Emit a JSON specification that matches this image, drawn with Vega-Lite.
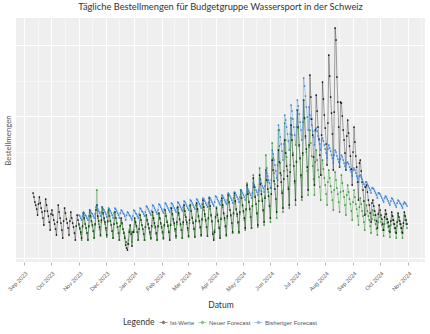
{
"$schema":"https://vega.github.io/schema/vega-lite/v6.json",
"width":409,"height":244,
"autosize":{"type":"none"},
"padding":{"left":16,"top":18,"right":5,"bottom":72},
"background":"white",
"view":{"fill":"#EFEFEF","stroke":null},
"title":{"text":"Tägliche Bestellmengen für Budgetgruppe Wassersport in der Schweiz","anchor":"middle","font":"Lato","fontSize":9.3,"fontWeight":"normal","color":"#333333","offset":6},
"data":{"values":[
{"d":"2023-09-11","i":69},{"d":"2023-09-12","i":65},{"d":"2023-09-13","i":60},{"d":"2023-09-14","i":57},{"d":"2023-09-15","i":53},{"d":"2023-09-16","i":47},{"d":"2023-09-17","i":58},
{"d":"2023-09-18","i":65},{"d":"2023-09-19","i":59},{"d":"2023-09-20","i":54},{"d":"2023-09-21","i":50},{"d":"2023-09-22","i":44},{"d":"2023-09-23","i":37},{"d":"2023-09-24","i":51},
{"d":"2023-09-25","i":63},{"d":"2023-09-26","i":57},{"d":"2023-09-27","i":51},{"d":"2023-09-28","i":46},{"d":"2023-09-29","i":40},{"d":"2023-09-30","i":32},{"d":"2023-10-01","i":48},
{"d":"2023-10-02","i":52},{"d":"2023-10-03","i":47},{"d":"2023-10-04","i":42},{"d":"2023-10-05","i":38},{"d":"2023-10-06","i":33},{"d":"2023-10-07","i":27},{"d":"2023-10-08","i":40},
{"d":"2023-10-09","i":57},{"d":"2023-10-10","i":50},{"d":"2023-10-11","i":44},{"d":"2023-10-12","i":39},{"d":"2023-10-13","i":32},{"d":"2023-10-14","i":24},{"d":"2023-10-15","i":41},
{"d":"2023-10-16","i":54},{"d":"2023-10-17","i":49},{"d":"2023-10-18","i":43},{"d":"2023-10-19","i":39},{"d":"2023-10-20","i":34},{"d":"2023-10-21","i":27},{"d":"2023-10-22","i":41},
{"d":"2023-10-23","i":50},{"d":"2023-10-24","i":44},{"d":"2023-10-25","i":39},{"d":"2023-10-26","i":35},{"d":"2023-10-27","i":29},{"d":"2023-10-28","i":22},{"d":"2023-10-29","i":36},
{"d":"2023-10-30","i":47},{"d":"2023-10-31","i":42},{"d":"2023-11-01","i":38,"n":37,"b":47},{"d":"2023-11-02","i":34,"n":33,"b":46},{"d":"2023-11-03","i":30,"n":28,"b":44},{"d":"2023-11-04","i":24,"n":22,"b":42},{"d":"2023-11-05","i":36,"n":35,"b":46},
{"d":"2023-11-06","i":49,"n":48,"b":50},{"d":"2023-11-07","i":44,"n":43,"b":49},{"d":"2023-11-08","i":38,"n":38,"b":47},{"d":"2023-11-09","i":34,"n":34,"b":46},{"d":"2023-11-10","i":29,"n":29,"b":44},{"d":"2023-11-11","i":22,"n":22,"b":42},{"d":"2023-11-12","i":36,"n":35,"b":46},
{"d":"2023-11-13","i":52,"n":50,"b":52},{"d":"2023-11-14","i":46,"n":45,"b":51},{"d":"2023-11-15","i":41,"n":40,"b":49},{"d":"2023-11-16","i":37,"n":36,"b":48},{"d":"2023-11-17","i":31,"n":31,"b":46},{"d":"2023-11-18","i":24,"n":24,"b":44},{"d":"2023-11-19","i":38,"n":37,"b":48},
{"d":"2023-11-20","i":52,"n":52,"b":55},{"d":"2023-11-21","i":57,"n":72,"b":57},{"d":"2023-11-22","i":46,"n":44,"b":53},{"d":"2023-11-23","i":41,"n":38,"b":51},{"d":"2023-11-24","i":35,"n":33,"b":49},{"d":"2023-11-25","i":27,"n":26,"b":46},{"d":"2023-11-26","i":42,"n":40,"b":50},
{"d":"2023-11-27","i":55,"n":54,"b":55},{"d":"2023-11-28","i":49,"n":48,"b":53},{"d":"2023-11-29","i":44,"n":42,"b":52},{"d":"2023-11-30","i":40,"n":38,"b":50},{"d":"2023-12-01","i":34,"n":32,"b":48},{"d":"2023-12-02","i":27,"n":25,"b":45},{"d":"2023-12-03","i":41,"n":40,"b":50},
{"d":"2023-12-04","i":52,"n":52,"b":54},{"d":"2023-12-05","i":46,"n":46,"b":53},{"d":"2023-12-06","i":41,"n":41,"b":51},{"d":"2023-12-07","i":37,"n":37,"b":49},{"d":"2023-12-08","i":31,"n":31,"b":47},{"d":"2023-12-09","i":24,"n":24,"b":44},{"d":"2023-12-10","i":38,"n":38,"b":49},
{"d":"2023-12-11","i":50,"n":50,"b":54},{"d":"2023-12-12","i":44,"n":44,"b":53},{"d":"2023-12-13","i":39,"n":39,"b":51},{"d":"2023-12-14","i":35,"n":35,"b":49},{"d":"2023-12-15","i":29,"n":29,"b":47},{"d":"2023-12-16","i":22,"n":22,"b":44},{"d":"2023-12-17","i":36,"n":36,"b":49},
{"d":"2023-12-18","i":44,"n":42,"b":52},{"d":"2023-12-19","i":39,"n":38,"b":51},{"d":"2023-12-20","i":33,"n":33,"b":49},{"d":"2023-12-21","i":29,"n":30,"b":48},{"d":"2023-12-22","i":24,"n":26,"b":46},{"d":"2023-12-23","i":17,"n":20,"b":42},{"d":"2023-12-24","i":14,"n":20,"b":47},
{"d":"2023-12-25","i":12,"n":18,"b":50},{"d":"2023-12-26","i":18,"n":22,"b":49},{"d":"2023-12-27","i":30,"n":32,"b":47},{"d":"2023-12-28","i":37,"n":36,"b":46},{"d":"2023-12-29","i":28,"n":30,"b":44},{"d":"2023-12-30","i":16,"n":20,"b":42},{"d":"2023-12-31","i":30,"n":30,"b":46},
{"d":"2024-01-01","i":30,"n":32,"b":52},{"d":"2024-01-02","i":44,"n":42,"b":51},{"d":"2024-01-03","i":40,"n":38,"b":49},{"d":"2024-01-04","i":36,"n":35,"b":48},{"d":"2024-01-05","i":30,"n":30,"b":46},{"d":"2024-01-06","i":22,"n":22,"b":44},{"d":"2024-01-07","i":33,"n":33,"b":48},
{"d":"2024-01-08","i":47,"n":47,"b":54},{"d":"2024-01-09","i":42,"n":42,"b":53},{"d":"2024-01-10","i":37,"n":37,"b":51},{"d":"2024-01-11","i":33,"n":33,"b":50},{"d":"2024-01-12","i":28,"n":28,"b":48},{"d":"2024-01-13","i":22,"n":22,"b":46},{"d":"2024-01-14","i":35,"n":35,"b":50},
{"d":"2024-01-15","i":47,"n":46,"b":56},{"d":"2024-01-16","i":42,"n":41,"b":55},{"d":"2024-01-17","i":38,"n":37,"b":53},{"d":"2024-01-18","i":34,"n":33,"b":51},{"d":"2024-01-19","i":30,"n":28,"b":49},{"d":"2024-01-20","i":24,"n":23,"b":47},{"d":"2024-01-21","i":36,"n":35,"b":51},
{"d":"2024-01-22","i":50,"n":47,"b":57},{"d":"2024-01-23","i":44,"n":42,"b":56},{"d":"2024-01-24","i":39,"n":37,"b":54},{"d":"2024-01-25","i":35,"n":34,"b":52},{"d":"2024-01-26","i":29,"n":28,"b":50},{"d":"2024-01-27","i":22,"n":22,"b":48},{"d":"2024-01-28","i":36,"n":35,"b":52},
{"d":"2024-01-29","i":49,"n":48,"b":58},{"d":"2024-01-30","i":44,"n":43,"b":57},{"d":"2024-01-31","i":39,"n":38,"b":55},{"d":"2024-02-01","i":35,"n":34,"b":53},{"d":"2024-02-02","i":30,"n":29,"b":51},{"d":"2024-02-03","i":24,"n":23,"b":49},{"d":"2024-02-04","i":37,"n":36,"b":53},
{"d":"2024-02-05","i":52,"n":52,"b":59},{"d":"2024-02-06","i":46,"n":46,"b":58},{"d":"2024-02-07","i":40,"n":41,"b":56},{"d":"2024-02-08","i":36,"n":37,"b":54},{"d":"2024-02-09","i":30,"n":31,"b":52},{"d":"2024-02-10","i":22,"n":24,"b":50},{"d":"2024-02-11","i":37,"n":38,"b":54},
{"d":"2024-02-12","i":54,"n":52,"b":59},{"d":"2024-02-13","i":48,"n":47,"b":58},{"d":"2024-02-14","i":43,"n":41,"b":56},{"d":"2024-02-15","i":39,"n":37,"b":54},{"d":"2024-02-16","i":33,"n":31,"b":52},{"d":"2024-02-17","i":26,"n":24,"b":50},{"d":"2024-02-18","i":40,"n":38,"b":54},
{"d":"2024-02-19","i":55,"n":53,"b":60},{"d":"2024-02-20","i":49,"n":47,"b":59},{"d":"2024-02-21","i":43,"n":42,"b":57},{"d":"2024-02-22","i":38,"n":37,"b":55},{"d":"2024-02-23","i":32,"n":32,"b":53},{"d":"2024-02-24","i":24,"n":24,"b":51},{"d":"2024-02-25","i":40,"n":38,"b":55},
{"d":"2024-02-26","i":57,"n":53,"b":61},{"d":"2024-02-27","i":51,"n":47,"b":60},{"d":"2024-02-28","i":45,"n":42,"b":58},{"d":"2024-02-29","i":40,"n":38,"b":56},{"d":"2024-03-01","i":34,"n":32,"b":54},{"d":"2024-03-02","i":26,"n":25,"b":52},{"d":"2024-03-03","i":42,"n":39,"b":56},
{"d":"2024-03-04","i":57,"n":57,"b":62},{"d":"2024-03-05","i":51,"n":51,"b":61},{"d":"2024-03-06","i":44,"n":45,"b":59},{"d":"2024-03-07","i":39,"n":40,"b":57},{"d":"2024-03-08","i":33,"n":34,"b":55},{"d":"2024-03-09","i":25,"n":26,"b":53},{"d":"2024-03-10","i":41,"n":42,"b":57},
{"d":"2024-03-11","i":59,"n":57,"b":63},{"d":"2024-03-12","i":53,"n":51,"b":62},{"d":"2024-03-13","i":46,"n":45,"b":60},{"d":"2024-03-14","i":41,"n":40,"b":58},{"d":"2024-03-15","i":35,"n":34,"b":56},{"d":"2024-03-16","i":27,"n":26,"b":54},{"d":"2024-03-17","i":43,"n":42,"b":58},
{"d":"2024-03-18","i":62,"n":58,"b":64},{"d":"2024-03-19","i":55,"n":52,"b":63},{"d":"2024-03-20","i":48,"n":46,"b":61},{"d":"2024-03-21","i":42,"n":41,"b":59},{"d":"2024-03-22","i":35,"n":35,"b":57},{"d":"2024-03-23","i":26,"n":27,"b":55},{"d":"2024-03-24","i":44,"n":43,"b":59},
{"d":"2024-03-25","i":64,"n":60,"b":65},{"d":"2024-03-26","i":56,"n":53,"b":64},{"d":"2024-03-27","i":47,"n":46,"b":62},{"d":"2024-03-28","i":41,"n":40,"b":60},{"d":"2024-03-29","i":28,"n":30,"b":58},{"d":"2024-03-30","i":22,"n":24,"b":56},{"d":"2024-03-31","i":30,"n":32,"b":60},
{"d":"2024-04-01","i":45,"n":44,"b":66},{"d":"2024-04-02","i":54,"n":55,"b":65},{"d":"2024-04-03","i":47,"n":48,"b":63},{"d":"2024-04-04","i":41,"n":42,"b":61},{"d":"2024-04-05","i":34,"n":35,"b":59},{"d":"2024-04-06","i":24,"n":26,"b":57},{"d":"2024-04-07","i":43,"n":44,"b":61},
{"d":"2024-04-08","i":64,"n":62,"b":67},{"d":"2024-04-09","i":57,"n":55,"b":66},{"d":"2024-04-10","i":49,"n":48,"b":64},{"d":"2024-04-11","i":44,"n":42,"b":62},{"d":"2024-04-12","i":36,"n":35,"b":60},{"d":"2024-04-13","i":27,"n":26,"b":58},{"d":"2024-04-14","i":46,"n":44,"b":62},
{"d":"2024-04-15","i":67,"n":67,"b":69},{"d":"2024-04-16","i":60,"n":59,"b":68},{"d":"2024-04-17","i":52,"n":52,"b":66},{"d":"2024-04-18","i":47,"n":46,"b":64},{"d":"2024-04-19","i":39,"n":39,"b":62},{"d":"2024-04-20","i":30,"n":29,"b":59},{"d":"2024-04-21","i":49,"n":48,"b":64},
{"d":"2024-04-22","i":69,"n":67,"b":70},{"d":"2024-04-23","i":61,"n":59,"b":69},{"d":"2024-04-24","i":53,"n":52,"b":67},{"d":"2024-04-25","i":48,"n":46,"b":65},{"d":"2024-04-26","i":40,"n":39,"b":63},{"d":"2024-04-27","i":30,"n":29,"b":60},{"d":"2024-04-28","i":50,"n":48,"b":65},
{"d":"2024-04-29","i":72,"n":72,"b":72},{"d":"2024-04-30","i":64,"n":64,"b":71},{"d":"2024-05-01","i":57,"n":56,"b":69},{"d":"2024-05-02","i":51,"n":50,"b":67},{"d":"2024-05-03","i":44,"n":42,"b":65},{"d":"2024-05-04","i":34,"n":32,"b":62},{"d":"2024-05-05","i":53,"n":52,"b":67},
{"d":"2024-05-06","i":77,"n":79,"b":75},{"d":"2024-05-07","i":68,"n":70,"b":73},{"d":"2024-05-08","i":60,"n":61,"b":71},{"d":"2024-05-09","i":53,"n":54,"b":69},{"d":"2024-05-10","i":45,"n":45,"b":67},{"d":"2024-05-11","i":34,"n":34,"b":64},{"d":"2024-05-12","i":56,"n":56,"b":69},
{"d":"2024-05-13","i":84,"n":87,"b":79},{"d":"2024-05-14","i":75,"n":77,"b":77},{"d":"2024-05-15","i":65,"n":66,"b":75},{"d":"2024-05-16","i":58,"n":58,"b":72},{"d":"2024-05-17","i":49,"n":48,"b":70},{"d":"2024-05-18","i":37,"n":35,"b":67},{"d":"2024-05-19","i":61,"n":61,"b":72},
{"d":"2024-05-20","i":87,"n":94,"b":84},{"d":"2024-05-21","i":78,"n":83,"b":82},{"d":"2024-05-22","i":68,"n":71,"b":79},{"d":"2024-05-23","i":61,"n":63,"b":76},{"d":"2024-05-24","i":52,"n":51,"b":74},{"d":"2024-05-25","i":40,"n":37,"b":70},{"d":"2024-05-26","i":64,"n":66,"b":76},
{"d":"2024-05-27","i":92,"n":107,"b":92},{"d":"2024-05-28","i":82,"n":94,"b":89},{"d":"2024-05-29","i":73,"n":80,"b":86},{"d":"2024-05-30","i":66,"n":70,"b":82},{"d":"2024-05-31","i":56,"n":57,"b":79},{"d":"2024-06-01","i":44,"n":40,"b":74},{"d":"2024-06-02","i":68,"n":74,"b":82},
{"d":"2024-06-03","i":102,"n":119,"b":112},{"d":"2024-06-04","i":92,"n":104,"b":108},{"d":"2024-06-05","i":81,"n":89,"b":102},{"d":"2024-06-06","i":73,"n":78,"b":97},{"d":"2024-06-07","i":63,"n":63,"b":91},{"d":"2024-06-08","i":50,"n":44,"b":84},{"d":"2024-06-09","i":76,"n":82,"b":97},
{"d":"2024-06-10","i":112,"n":132,"b":137},{"d":"2024-06-11","i":100,"n":116,"b":132},{"d":"2024-06-12","i":89,"n":99,"b":125},{"d":"2024-06-13","i":80,"n":87,"b":118},{"d":"2024-06-14","i":69,"n":71,"b":111},{"d":"2024-06-15","i":54,"n":50,"b":102},{"d":"2024-06-16","i":83,"n":91,"b":118},
{"d":"2024-06-17","i":122,"n":139,"b":147},{"d":"2024-06-18","i":109,"n":122,"b":142},{"d":"2024-06-19","i":96,"n":105,"b":135},{"d":"2024-06-20","i":86,"n":92,"b":128},{"d":"2024-06-21","i":73,"n":75,"b":121},{"d":"2024-06-22","i":57,"n":54,"b":112},{"d":"2024-06-23","i":90,"n":97,"b":128},
{"d":"2024-06-24","i":137,"n":144,"b":157},{"d":"2024-06-25","i":122,"n":127,"b":151},{"d":"2024-06-26","i":107,"n":109,"b":143},{"d":"2024-06-27","i":96,"n":96,"b":135},{"d":"2024-06-28","i":81,"n":79,"b":127},{"d":"2024-06-29","i":62,"n":57,"b":117},{"d":"2024-06-30","i":100,"n":101,"b":135},
{"d":"2024-07-01","i":152,"n":152,"b":162},{"d":"2024-07-02","i":135,"n":134,"b":156},{"d":"2024-07-03","i":117,"n":116,"b":148},{"d":"2024-07-04","i":104,"n":103,"b":140},{"d":"2024-07-05","i":87,"n":85,"b":132},{"d":"2024-07-06","i":65,"n":62,"b":122},{"d":"2024-07-07","i":109,"n":107,"b":140},
{"d":"2024-07-08","i":162,"n":162,"b":184},{"d":"2024-07-09","i":144,"n":143,"b":176},{"d":"2024-07-10","i":126,"n":124,"b":166},{"d":"2024-07-11","i":113,"n":110,"b":155},{"d":"2024-07-12","i":95,"n":91,"b":145},{"d":"2024-07-13","i":72,"n":67,"b":132},{"d":"2024-07-14","i":117,"n":115,"b":155},
{"d":"2024-07-15","i":187,"n":132,"b":147},{"d":"2024-07-16","i":165,"n":119,"b":143},{"d":"2024-07-17","i":143,"n":106,"b":137},{"d":"2024-07-18","i":127,"n":96,"b":131},{"d":"2024-07-19","i":105,"n":83,"b":125},{"d":"2024-07-20","i":77,"n":67,"b":117},{"d":"2024-07-21","i":132,"n":100,"b":131},
{"d":"2024-07-22","i":167,"n":112,"b":134},{"d":"2024-07-23","i":151,"n":102,"b":131},{"d":"2024-07-24","i":135,"n":92,"b":126},{"d":"2024-07-25","i":123,"n":85,"b":122},{"d":"2024-07-26","i":107,"n":75,"b":118},{"d":"2024-07-27","i":87,"n":62,"b":112},{"d":"2024-07-28","i":127,"n":87,"b":122},
{"d":"2024-07-29","i":180,"n":102,"b":124},{"d":"2024-07-30","i":163,"n":93,"b":121},{"d":"2024-07-31","i":147,"n":84,"b":117},{"d":"2024-08-01","i":134,"n":77,"b":113},{"d":"2024-08-02","i":118,"n":68,"b":109},{"d":"2024-08-03","i":97,"n":57,"b":104},{"d":"2024-08-04","i":139,"n":80,"b":113},
{"d":"2024-08-05","i":207,"n":92,"b":117},{"d":"2024-08-06","i":186,"n":84,"b":114},{"d":"2024-08-07","i":165,"n":76,"b":111},{"d":"2024-08-08","i":149,"n":70,"b":107},{"d":"2024-08-09","i":128,"n":62,"b":104},{"d":"2024-08-10","i":92,"n":52,"b":99},{"d":"2024-08-11","i":150,"n":72,"b":107},
{"d":"2024-08-12","i":234,"n":90,"b":112},{"d":"2024-08-13","i":222,"n":82,"b":110},{"d":"2024-08-14","i":185,"n":74,"b":106},{"d":"2024-08-15","i":160,"n":68,"b":103},{"d":"2024-08-16","i":135,"n":60,"b":100},{"d":"2024-08-17","i":95,"n":50,"b":96},{"d":"2024-08-18","i":160,"n":70,"b":103},
{"d":"2024-08-19","i":159,"n":87,"b":107},{"d":"2024-08-20","i":146,"n":79,"b":105},{"d":"2024-08-21","i":132,"n":71,"b":102},{"d":"2024-08-22","i":122,"n":65,"b":99},{"d":"2024-08-23","i":109,"n":57,"b":96},{"d":"2024-08-24","i":92,"n":47,"b":92},{"d":"2024-08-25","i":126,"n":67,"b":99},
{"d":"2024-08-26","i":142,"n":77,"b":100},{"d":"2024-08-27","i":129,"n":70,"b":98},{"d":"2024-08-28","i":116,"n":63,"b":95},{"d":"2024-08-29","i":106,"n":58,"b":92},{"d":"2024-08-30","i":93,"n":51,"b":90},{"d":"2024-08-31","i":77,"n":42,"b":86},{"d":"2024-09-01","i":110,"n":60,"b":92},
{"d":"2024-09-02","i":135,"n":72,"b":94},{"d":"2024-09-03","i":120,"n":65,"b":92},{"d":"2024-09-04","i":106,"n":58,"b":89},{"d":"2024-09-05","i":95,"n":53,"b":86},{"d":"2024-09-06","i":80,"n":46,"b":84},{"d":"2024-09-07","i":62,"n":37,"b":80},{"d":"2024-09-08","i":99,"n":55,"b":86},
{"d":"2024-09-09","i":102,"n":64,"b":87},{"d":"2024-09-10","i":91,"n":58,"b":85},{"d":"2024-09-11","i":80,"n":51,"b":83},{"d":"2024-09-12","i":72,"n":46,"b":80},{"d":"2024-09-13","i":61,"n":40,"b":78},{"d":"2024-09-14","i":47,"n":32,"b":75},{"d":"2024-09-15","i":75,"n":48,"b":80},
{"d":"2024-09-16","i":77,"n":57,"b":80},{"d":"2024-09-17","i":70,"n":51,"b":78},{"d":"2024-09-18","i":62,"n":46,"b":76},{"d":"2024-09-19","i":57,"n":42,"b":74},{"d":"2024-09-20","i":49,"n":36,"b":72},{"d":"2024-09-21","i":40,"n":29,"b":69},{"d":"2024-09-22","i":59,"n":43,"b":74},
{"d":"2024-09-23","i":62,"n":52,"b":74},{"d":"2024-09-24","i":56,"n":47,"b":73},{"d":"2024-09-25","i":51,"n":42,"b":71},{"d":"2024-09-26","i":47,"n":38,"b":69},{"d":"2024-09-27","i":41,"n":33,"b":67},{"d":"2024-09-28","i":34,"n":27,"b":64},{"d":"2024-09-29","i":48,"n":40,"b":69},
{"d":"2024-09-30","i":57,"n":50,"b":69},{"d":"2024-10-01","i":52,"n":45,"b":68},{"d":"2024-10-02","i":47,"n":40,"b":66},{"d":"2024-10-03","i":43,"n":37,"b":64},{"d":"2024-10-04","i":38,"n":32,"b":62},{"d":"2024-10-05","i":32,"n":26,"b":60},{"d":"2024-10-06","i":45,"n":38,"b":64},
{"d":"2024-10-07","i":52,"n":48,"b":66},{"d":"2024-10-08","i":48,"n":43,"b":65},{"d":"2024-10-09","i":43,"n":39,"b":63},{"d":"2024-10-10","i":40,"n":35,"b":61},{"d":"2024-10-11","i":36,"n":31,"b":59},{"d":"2024-10-12","i":30,"n":25,"b":57},{"d":"2024-10-13","i":41,"n":37,"b":61},
{"d":"2024-10-14","i":50,"n":47,"b":64},{"d":"2024-10-15","i":46,"n":42,"b":63},{"d":"2024-10-16","i":42,"n":38,"b":61},{"d":"2024-10-17","i":38,"n":34,"b":59},{"d":"2024-10-18","i":34,"n":30,"b":57},{"d":"2024-10-19","i":29,"n":24,"b":55},{"d":"2024-10-20","i":40,"n":36,"b":59},
{"d":"2024-10-21","i":49,"n":47,"b":62},{"d":"2024-10-22","i":45,"n":42,"b":61},{"d":"2024-10-23","i":41,"n":38,"b":59},{"d":"2024-10-24","i":38,"n":34,"b":58},{"d":"2024-10-25","i":34,"n":30,"b":56},{"d":"2024-10-26","i":29,"n":24,"b":54},{"d":"2024-10-27","i":39,"n":36,"b":58},
{"d":"2024-10-28","i":50,"n":47,"b":60},{"d":"2024-10-29","i":46,"n":42,"b":59},{"d":"2024-10-30","i":42,"n":38,"b":58},{"d":"2024-10-31","i":38,"n":34,"b":56}
]},
"transform":[{"fold":["i","n","b"],"as":["serie","wert"]}],
"encoding":{
"x":{"field":"d","type":"temporal",
"scale":{"type":"utc","domain":[{"year":2023,"month":8,"date":23,"utc":true},{"year":2024,"month":11,"date":20,"utc":true}]},
"axis":{"title":"Datum","titleFont":"Lato","titleFontSize":8.5,"titleFontWeight":"normal","titleColor":"#333333","titlePadding":8,
"values":[{"year":2023,"month":9,"date":1,"utc":true},{"year":2023,"month":9,"date":16,"utc":true},{"year":2023,"month":10,"date":1,"utc":true},{"year":2023,"month":10,"date":16,"utc":true},{"year":2023,"month":11,"date":1,"utc":true},{"year":2023,"month":11,"date":16,"utc":true},{"year":2023,"month":12,"date":1,"utc":true},{"year":2023,"month":12,"date":16,"utc":true},{"year":2024,"month":1,"date":1,"utc":true},{"year":2024,"month":1,"date":16,"utc":true},{"year":2024,"month":2,"date":1,"utc":true},{"year":2024,"month":2,"date":15,"utc":true},{"year":2024,"month":3,"date":1,"utc":true},{"year":2024,"month":3,"date":16,"utc":true},{"year":2024,"month":4,"date":1,"utc":true},{"year":2024,"month":4,"date":16,"utc":true},{"year":2024,"month":5,"date":1,"utc":true},{"year":2024,"month":5,"date":16,"utc":true},{"year":2024,"month":6,"date":1,"utc":true},{"year":2024,"month":6,"date":16,"utc":true},{"year":2024,"month":7,"date":1,"utc":true},{"year":2024,"month":7,"date":16,"utc":true},{"year":2024,"month":8,"date":1,"utc":true},{"year":2024,"month":8,"date":16,"utc":true},{"year":2024,"month":9,"date":1,"utc":true},{"year":2024,"month":9,"date":16,"utc":true},{"year":2024,"month":10,"date":1,"utc":true},{"year":2024,"month":10,"date":16,"utc":true},{"year":2024,"month":11,"date":1,"utc":true},{"year":2024,"month":11,"date":16,"utc":true}],
"labelExpr":"utcdate(datum.value) == 1 ? utcFormat(datum.value, '%b %Y') : ''",
"labelAngle":-45,"labelAlign":"right","labelBaseline":"top","labelFont":"Liberation Sans","labelFontSize":5.8,"labelColor":"#666666","labelPadding":5,"labelOverlap":false,"labelBound":false,
"domain":false,"tickColor":"#888888","tickSize":3,"tickWidth":0.6,
"tickOpacity":{"condition":{"test":"utcdate(datum.value) == 1","value":1},"value":0},
"gridColor":"#FFFFFF","gridWidth":{"condition":{"test":"utcdate(datum.value) == 1","value":1},"value":0.5}}},
"y":{"field":"wert","type":"quantitative","scale":{"domain":[0,244],"nice":false,"zero":false},
"axis":{"title":"Bestellmengen","titleFont":"Lato","titleFontSize":7.8,"titleFontWeight":"normal","titleColor":"#555555","titlePadding":4,
"labels":false,"ticks":false,"domain":false,"values":[4,39.5,75,110.5,146,181.5,217],
"gridColor":"#FFFFFF","gridWidth":{"condition":{"test":"datum.value == 4 || datum.value == 75 || datum.value == 146 || datum.value == 217","value":1},"value":0.5}}},
"color":{"field":"serie","type":"nominal","scale":{"domain":["i","n","b"],"range":["#000000","#228B22","#2B7BD6"]},
"legend":{"orient":"none","legendX":107,"legendY":300,"direction":"horizontal","gridAlign":"none","title":"Legende","titleOrient":"left","titleFont":"Lato","titleFontSize":8.5,"titleFontWeight":"normal","titleColor":"#333333","titlePadding":4,
"labelExpr":"datum.label == 'i' ? 'Ist-Werte' : datum.label == 'n' ? 'Neuer Forecast' : 'Bisheriger Forecast'",
"labelFont":"Liberation Sans","labelFontSize":6,"labelColor":"#555555","labelOffset":2,"columnPadding":1,
"symbolType":"M-1,0L1,0M-0.35,0A0.35,0.35,0,1,0,0.35,0A0.35,0.35,0,1,0,-0.35,0","symbolSize":64,"symbolStrokeWidth":0.8,
"encode":{"symbols":{"update":{"stroke":{"scale":"color","field":"value"},"fill":{"scale":"color","field":"value"},"opacity":{"value":1}}}}}}
},
"layer":[
{"mark":{"type":"line","strokeWidth":0.7,"opacity":0.5}},
{"mark":{"type":"point","filled":true,"size":3,"opacity":1}}
]
}
